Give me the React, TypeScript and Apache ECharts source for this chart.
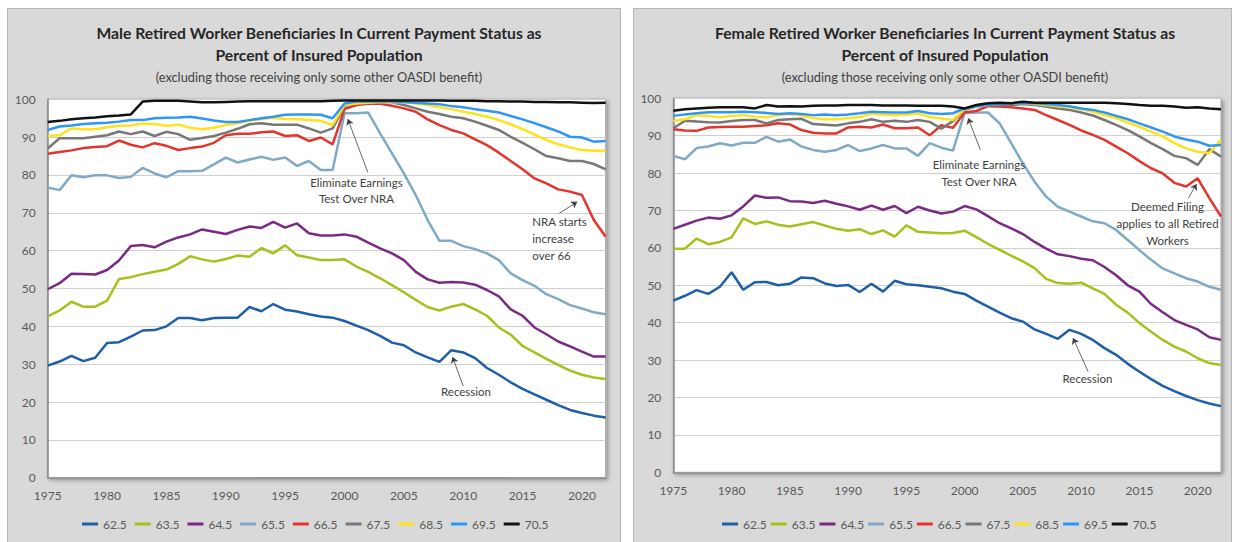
import React, { useEffect, useRef } from "react";
import * as echarts from "echarts";

const FONT = "Lato, 'Open Sans', sans-serif";

const years = [
  1975, 1976, 1977, 1978, 1979, 1980, 1981, 1982, 1983, 1984,
  1985, 1986, 1987, 1988, 1989, 1990, 1991, 1992, 1993, 1994,
  1995, 1996, 1997, 1998, 1999, 2000, 2001, 2002, 2003, 2004,
  2005, 2006, 2007, 2008, 2009, 2010, 2011, 2012, 2013, 2014,
  2015, 2016, 2017, 2018, 2019, 2020, 2021, 2022,
];

const seriesNames = ["62.5", "63.5", "64.5", "65.5", "66.5", "67.5", "68.5", "69.5", "70.5"];
const seriesColors = ["#1F5EA8", "#A9BF1C", "#7B2A84", "#80A9C6", "#E3352D", "#777777", "#FFE11C", "#2F96F5", "#111111"];

// Male
const male625 = [29.6, 30.7, 32.2, 30.8, 31.7, 35.6, 35.8, 37.3, 38.9, 39.0, 40.0, 42.2, 42.2, 41.6, 42.2, 42.3, 42.3, 45.1, 44.0, 45.9, 44.4, 43.9, 43.2, 42.6, 42.3, 41.4, 40.2, 39.0, 37.5, 35.7, 35.0, 33.1, 31.8, 30.6, 33.7, 33.1, 31.6, 29.0, 27.2, 25.2, 23.5, 22.0, 20.6, 19.2, 17.9, 17.1, 16.4, 15.9];
const male635 = [42.6, 44.2, 46.5, 45.2, 45.2, 46.8, 52.5, 53.0, 53.8, 54.4, 55.0, 56.5, 58.5, 57.7, 57.1, 57.8, 58.7, 58.4, 60.7, 59.3, 61.4, 58.8, 58.2, 57.5, 57.5, 57.7, 55.8, 54.4, 52.7, 50.9, 49.0, 47.0, 45.1, 44.2, 45.2, 45.9, 44.5, 42.8, 39.7, 37.8, 34.8, 33.1, 31.4, 29.8, 28.3, 27.2, 26.5, 26.1];
const male645 = [49.8, 51.4, 53.9, 53.8, 53.7, 54.9, 57.4, 61.2, 61.5, 60.9, 62.4, 63.5, 64.3, 65.6, 65.0, 64.4, 65.5, 66.4, 66.0, 67.6, 66.1, 67.2, 64.6, 64.0, 64.0, 64.3, 63.7, 62.1, 60.6, 59.3, 57.5, 54.4, 52.4, 51.5, 51.7, 51.6, 51.0, 49.6, 47.9, 44.5, 42.8, 39.7, 37.9, 36.0, 34.7, 33.3, 32.0, 32.0];
const male655 = [76.7, 76.0, 79.9, 79.4, 79.9, 79.9, 79.2, 79.5, 81.9, 80.4, 79.4, 81.0, 81.0, 81.1, 82.8, 84.6, 83.3, 84.1, 84.8, 84.0, 84.6, 82.4, 83.7, 81.3, 81.3, 96.3, 96.3, 96.5, 91.0, 85.7, 80.4, 74.7, 68.1, 62.6, 62.6, 61.2, 60.4, 59.3, 57.5, 54.0, 52.2, 50.7, 48.5, 47.2, 45.6, 44.7, 43.7, 43.2];
const male665 = [85.6, 86.1, 86.5, 87.1, 87.4, 87.6, 89.1, 88.0, 87.3, 88.4, 87.7, 86.6, 87.1, 87.5, 88.5, 90.5, 90.9, 90.9, 91.3, 91.5, 90.3, 90.5, 89.0, 89.9, 88.1, 97.4, 98.5, 98.8, 98.8, 98.3, 97.6, 96.7, 94.7, 93.2, 91.9, 91.0, 89.4, 87.9, 85.9, 83.7, 81.5, 79.1, 77.8, 76.2, 75.6, 74.7, 68.1, 63.7];
const male675 = [87.0, 89.7, 89.7, 89.7, 90.1, 90.5, 91.5, 90.8, 91.5, 90.3, 91.4, 90.8, 89.3, 89.8, 90.3, 91.2, 92.2, 93.4, 93.7, 93.3, 93.3, 93.3, 92.3, 91.2, 92.3, 98.2, 99.1, 99.4, 99.4, 99.2, 98.5, 97.6, 96.7, 96.1, 95.4, 95.0, 94.1, 93.0, 91.9, 90.1, 88.5, 86.8, 85.0, 84.4, 83.7, 83.7, 82.9, 81.5];
const male685 = [90.3, 90.5, 92.3, 92.1, 92.1, 92.6, 93.0, 93.1, 93.6, 93.5, 93.0, 93.3, 92.5, 92.1, 92.5, 93.2, 93.7, 94.3, 94.8, 95.1, 94.8, 94.7, 94.6, 94.3, 93.2, 98.5, 98.9, 99.1, 99.2, 99.3, 99.2, 98.9, 98.5, 97.9, 97.4, 96.7, 96.1, 95.4, 94.5, 93.4, 92.1, 90.7, 89.3, 88.1, 87.3, 86.6, 86.4, 86.4];
const male695 = [91.9, 92.8, 93.1, 93.5, 93.7, 93.8, 94.1, 94.5, 94.5, 95.0, 95.1, 95.2, 95.4, 94.9, 94.4, 94.0, 94.0, 94.5, 95.0, 95.4, 95.9, 96.0, 96.0, 95.9, 95.0, 98.9, 99.4, 99.4, 99.4, 99.4, 99.3, 99.1, 98.9, 98.7, 98.2, 97.9, 97.4, 97.0, 96.5, 95.6, 94.7, 93.7, 92.6, 91.5, 90.1, 89.9, 88.8, 89.0];
const male705 = [94.0, 94.3, 94.7, 95.0, 95.2, 95.5, 95.7, 96.0, 99.4, 99.6, 99.6, 99.6, 99.4, 99.2, 99.2, 99.3, 99.4, 99.5, 99.5, 99.5, 99.5, 99.5, 99.5, 99.5, 99.6, 99.7, 99.7, 99.7, 99.7, 99.7, 99.7, 99.7, 99.7, 99.7, 99.6, 99.6, 99.6, 99.5, 99.5, 99.4, 99.4, 99.3, 99.3, 99.2, 99.2, 99.1, 99.0, 99.1];

// Female
const female625 = [45.9, 47.2, 48.7, 47.7, 49.6, 53.5, 48.8, 50.8, 50.9, 50.0, 50.4, 52.1, 51.9, 50.5, 49.8, 50.1, 48.2, 50.4, 48.3, 51.2, 50.3, 50.0, 49.6, 49.2, 48.3, 47.7, 45.9, 44.3, 42.7, 41.2, 40.3, 38.2, 37.0, 35.7, 38.1, 37.0, 35.4, 33.2, 31.4, 29.0, 26.9, 24.9, 23.1, 21.7, 20.4, 19.3, 18.4, 17.7];
const female635 = [59.8, 59.8, 62.5, 61.0, 61.6, 62.8, 67.9, 66.4, 67.1, 66.2, 65.7, 66.3, 66.9, 66.0, 65.1, 64.6, 65.0, 63.7, 64.7, 63.0, 66.0, 64.3, 64.1, 63.9, 64.0, 64.6, 62.9, 61.1, 59.5, 57.9, 56.4, 54.6, 51.7, 50.6, 50.4, 50.7, 49.2, 47.7, 44.8, 42.7, 39.9, 37.6, 35.4, 33.6, 32.3, 30.5, 29.2, 28.7];
const female645 = [65.1, 66.2, 67.3, 68.1, 67.8, 68.7, 71.1, 74.0, 73.4, 73.5, 72.5, 72.4, 72.0, 72.6, 71.8, 71.1, 70.2, 71.3, 70.2, 71.2, 69.3, 71.0, 70.0, 69.2, 69.7, 71.2, 70.3, 68.5, 66.6, 65.2, 63.7, 61.6, 59.8, 58.3, 57.8, 57.1, 56.7, 54.9, 52.7, 50.0, 48.3, 45.0, 42.8, 40.7, 39.4, 38.2, 36.1, 35.4];
const female655 = [84.6, 83.7, 86.7, 87.1, 88.0, 87.4, 88.1, 88.1, 89.7, 88.4, 89.0, 87.1, 86.2, 85.7, 86.2, 87.5, 85.9, 86.6, 87.5, 86.6, 86.6, 84.6, 88.0, 86.8, 86.0, 96.1, 96.2, 96.2, 93.3, 88.0, 82.6, 77.7, 73.7, 71.0, 69.7, 68.4, 67.1, 66.6, 64.8, 62.1, 59.4, 56.8, 54.5, 53.2, 51.9, 51.0, 49.6, 48.8];
const female665 = [91.7, 91.4, 91.3, 92.2, 92.3, 92.4, 92.4, 92.6, 92.8, 93.3, 93.0, 91.5, 90.8, 90.6, 90.6, 92.2, 92.4, 92.2, 93.0, 92.0, 92.0, 92.2, 90.1, 92.8, 92.1, 96.2, 96.6, 97.9, 97.8, 97.6, 97.3, 96.9, 95.5, 94.2, 92.9, 91.4, 90.2, 88.9, 87.1, 85.3, 83.2, 81.3, 79.9, 77.4, 76.4, 78.6, 73.3, 68.4];
const female675 = [92.0, 94.0, 93.8, 93.6, 93.5, 93.9, 94.2, 94.2, 93.3, 94.2, 94.4, 94.5, 93.1, 92.9, 92.7, 93.3, 93.7, 94.4, 93.7, 94.0, 93.7, 94.2, 93.7, 91.9, 93.9, 96.9, 97.8, 98.2, 98.2, 98.2, 98.5, 98.2, 97.8, 97.3, 96.9, 96.2, 95.4, 94.2, 92.9, 91.5, 89.8, 88.0, 86.4, 84.6, 84.0, 82.2, 86.4, 84.4];
const female685 = [94.0, 94.4, 95.5, 95.3, 94.9, 95.3, 95.5, 95.1, 94.9, 95.5, 95.8, 95.4, 94.7, 94.4, 94.4, 94.7, 95.0, 95.9, 95.7, 95.5, 95.7, 95.9, 95.0, 94.6, 94.2, 97.2, 97.8, 98.2, 98.5, 98.7, 98.7, 98.5, 98.2, 97.9, 97.6, 97.1, 96.4, 95.5, 94.7, 93.5, 92.4, 91.1, 89.8, 88.0, 86.6, 85.7, 85.3, 89.0];
const female695 = [95.3, 95.7, 96.0, 96.3, 96.3, 96.3, 96.4, 96.3, 96.1, 95.8, 96.0, 95.8, 95.5, 95.7, 95.5, 95.7, 96.0, 96.4, 96.3, 96.2, 96.2, 96.6, 96.0, 95.8, 96.0, 97.3, 97.9, 98.2, 98.5, 98.7, 98.7, 98.7, 98.5, 98.2, 97.9, 97.3, 96.9, 96.2, 95.3, 94.4, 93.3, 92.2, 91.1, 89.8, 89.0, 88.4, 87.3, 87.5];
const female705 = [96.7, 97.1, 97.3, 97.5, 97.6, 97.6, 97.6, 97.3, 98.2, 97.8, 97.9, 97.8, 98.0, 98.1, 98.1, 98.2, 98.2, 98.2, 98.1, 98.1, 98.1, 98.0, 98.0, 98.0, 97.8, 97.3, 98.2, 98.7, 98.8, 98.7, 99.1, 98.8, 98.8, 98.8, 98.8, 98.8, 98.8, 98.8, 98.7, 98.5, 98.2, 98.0, 98.0, 97.8, 97.5, 97.6, 97.3, 97.1];

const maleSeries = [male625, male635, male645, male655, male665, male675, male685, male695, male705];
const femaleSeries = [female625, female635, female645, female655, female665, female675, female685, female695, female705];

// Annotation arrows: [fromYear, fromValue, toYear, toValue]
const maleArrows = [
  [2001.96, 80.7, 2000.28, 94.8],
  [2018.1, 69.9, 2019.6, 72.9],
  [2010.0, 24.2, 2009.1, 31.9],
];
const femaleArrows = [
  [2001.35, 86.2, 2000.3, 94.7],
  [2019.2, 73.3, 2019.9, 77.1],
  [2010.6, 26.9, 2009.3, 35.9],
];

const maleTitle = "Male Retired Worker Beneficiaries In Current Payment Status as\nPercent of Insured Population";
const femaleTitle = "Female Retired Worker Beneficiaries In Current Payment Status as\nPercent of Insured Population";
const subTitle = "(excluding those receiving only some other OASDI benefit)";

const AXIS_COLOR = "#595959";

function buildSeries(data: number[][], g: number, arrows: number[][]) {
  return data.map((arr, k) => ({
    name: seriesNames[k],
    type: "line",
    xAxisIndex: g,
    yAxisIndex: g,
    data: arr.map((v, i) => [years[i], v]),
    symbol: "none",
    showSymbol: false,
    silent: true,
    lineStyle: { color: seriesColors[k], width: 2.5 },
    itemStyle: { color: seriesColors[k] },
    markLine:
      k === data.length - 1
        ? {
            silent: true,
            symbol: ["none", "arrow"],
            symbolSize: 6,
            label: { show: false },
            lineStyle: { color: "#404040", width: 0.8, type: "solid" },
            data: arrows.map((a) => [{ coord: [a[0], a[1]] }, { coord: [a[2], a[3]] }]),
          }
        : undefined,
  }));
}

function xAxis(g: number) {
  return {
    type: "value",
    gridIndex: g,
    min: 1975,
    max: 2022,
    interval: 5,
    axisLine: { show: true, lineStyle: { color: "#8a8a8a", width: 1.5 } },
    axisTick: { show: false },
    splitLine: { show: false },
    axisLabel: {
      formatter: (v: number) => String(v),
      showMaxLabel: false,
      color: AXIS_COLOR,
      fontFamily: FONT,
      fontSize: 12,
      margin: 12,
    },
  };
}

function yAxis(g: number) {
  return {
    type: "value",
    gridIndex: g,
    min: 0,
    max: 100,
    interval: 10,
    axisLine: { show: true, lineStyle: { color: "#8a8a8a", width: 1.5 } },
    axisTick: { show: false },
    splitLine: { show: true, lineStyle: { color: "#d0d0d0", width: 1 } },
    axisLabel: { color: AXIS_COLOR, fontFamily: FONT, fontSize: 12, margin: 12 },
  };
}

function titleOf(text: string, cx: number) {
  return {
    text,
    subtext: subTitle,
    left: cx,
    top: 22,
    textAlign: "center",
    padding: 0,
    itemGap: 3,
    textStyle: { fontFamily: FONT, fontSize: 15.7, fontWeight: "bold", color: "#262626", lineHeight: 22 },
    subtextStyle: { fontFamily: FONT, fontSize: 12.8, color: "#404040", lineHeight: 16 },
  };
}

function note(x: number, y: number, text: string, align: string, lh: number) {
  return {
    type: "text",
    x,
    y,
    z: 100,
    style: {
      text,
      fill: "#404040",
      fontFamily: FONT,
      fontSize: 11.5,
      lineHeight: lh,
      align,
      verticalAlign: "middle",
      textAlign: align,
      textVerticalAlign: "middle",
    },
  };
}

export default function App() {
  const ref = useRef<HTMLDivElement>(null);
  useEffect(() => {
    if (!ref.current) return;
    const chart = echarts.init(ref.current, undefined, { renderer: "svg" });
    const gridCommon = {
      show: true,
      backgroundColor: "#ffffff",
      borderColor: "#a0a0a0",
      borderWidth: 1,
      shadowColor: "rgba(0,0,0,0.35)",
      shadowBlur: 4,
      shadowOffsetX: 2,
      shadowOffsetY: 2,
    };
    const legendCommon = {
      data: seriesNames,
      top: 518,
      padding: 0,
      icon: "rect",
      itemWidth: 16,
      itemHeight: 3,
      selectedMode: false,
      textStyle: { fontFamily: FONT, fontSize: 12, color: AXIS_COLOR },
    };
    chart.setOption({
      animation: false,
      title: [titleOf(maleTitle, 319), titleOf(femaleTitle, 945)],
      grid: [
        { ...gridCommon, left: 47.7, top: 99.3, width: 558, height: 378.4 },
        { ...gridCommon, left: 673.3, top: 98.3, width: 547.7, height: 374 },
      ],
      xAxis: [xAxis(0), xAxis(1)],
      yAxis: [yAxis(0), yAxis(1)],
      legend: [
        { ...legendCommon, left: 82, itemGap: 8 },
        { ...legendCommon, left: 722, itemGap: 4 },
      ],
      series: [...buildSeries(maleSeries, 0, maleArrows), ...buildSeries(femaleSeries, 1, femaleArrows)],
      graphic: [
        note(356.5, 190.7, "Eliminate Earnings\nTest Over NRA", "center", 16),
        note(532.3, 238, "NRA starts\nincrease\nover 66", "left", 17),
        note(466, 391.7, "Recession", "center", 16),
        note(979, 173.3, "Eliminate Earnings\nTest Over NRA", "center", 16.7),
        note(1167.5, 223.8, "Deemed Filing\napplies to all Retired\nWorkers", "center", 17),
        note(1087.5, 378.3, "Recession", "center", 16),
      ],
    });
    return () => chart.dispose();
  }, []);

  const panel = {
    position: "absolute" as const,
    top: 8,
    height: 540,
    background: "#d9d9d9",
    border: "1px solid #b5b5b5",
    boxSizing: "border-box" as const,
  };

  return (
    <div style={{ position: "fixed", left: 0, top: 0, width: 1234, height: 542, background: "#ffffff", overflow: "hidden" }}>
      <div style={{ ...panel, left: 7, width: 614 }} />
      <div style={{ ...panel, left: 633, width: 599 }} />
      <div ref={ref} style={{ position: "absolute", left: 0, top: 0, width: 1234, height: 542 }} />
    </div>
  );
}
